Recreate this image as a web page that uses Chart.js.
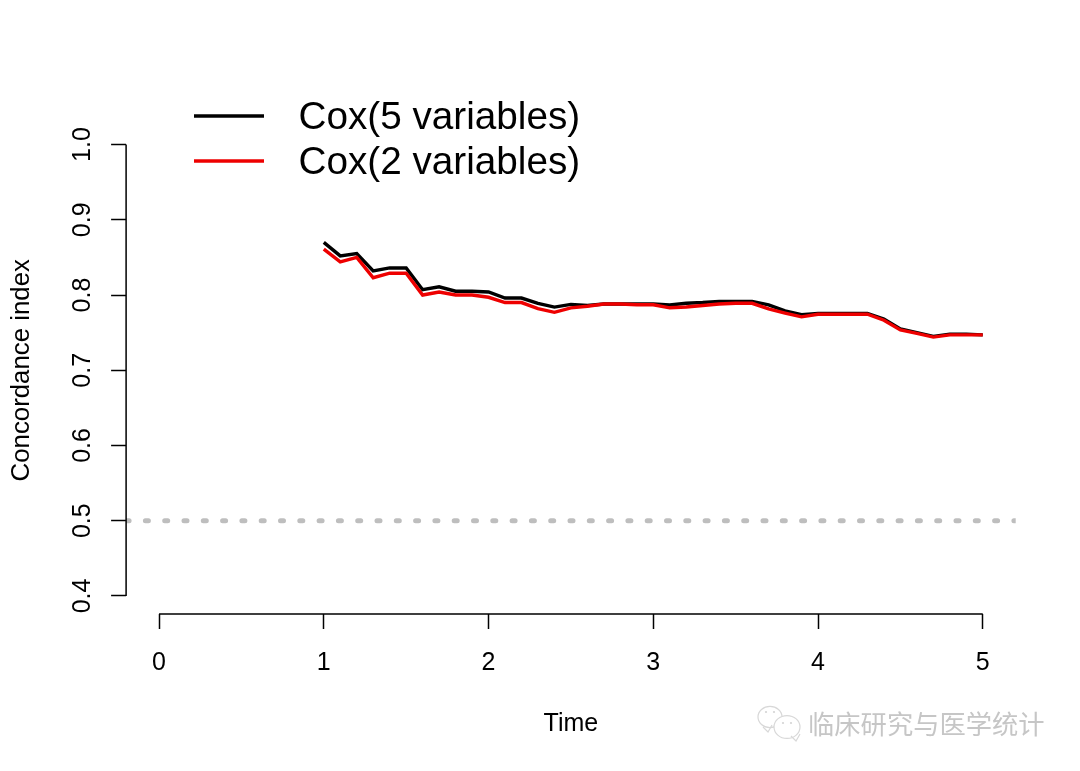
<!DOCTYPE html>
<html>
<head>
<meta charset="utf-8">
<title>Concordance index</title>
<script src="https://cdn.jsdelivr.net/npm/chart.js@4/dist/chart.umd.min.js"></script>
<style>
  html, body { margin: 0; background: #fff; }
  canvas { display: block; }
</style>
</head>
<body>
<canvas id="chart" width="1080" height="771"></canvas>
<script>
const times = [1, 1.1, 1.2, 1.3, 1.4, 1.5, 1.6, 1.7, 1.8, 1.9, 2, 2.1, 2.2, 2.3, 2.4, 2.5, 2.6, 2.7, 2.8, 2.9,
  3, 3.1, 3.2, 3.3, 3.4, 3.5, 3.6, 3.7, 3.8, 3.9, 4, 4.1, 4.2, 4.3, 4.4, 4.5, 4.6, 4.7, 4.8, 4.9, 5];
const cox5 = [0.870, 0.852, 0.855, 0.832, 0.836, 0.836, 0.807, 0.811, 0.805, 0.805, 0.804, 0.796, 0.796, 0.789, 0.784, 0.7875, 0.786, 0.788, 0.788, 0.788,
  0.788, 0.7867, 0.789, 0.790, 0.7915, 0.7915, 0.7915, 0.787, 0.779, 0.774, 0.7755, 0.7755, 0.7755, 0.7755, 0.768, 0.755, 0.750, 0.745, 0.748, 0.748, 0.747];
const cox2 = [0.861, 0.844, 0.850, 0.823, 0.829, 0.829, 0.800, 0.804, 0.800, 0.800, 0.797, 0.790, 0.790, 0.782, 0.777, 0.783, 0.785, 0.788, 0.788, 0.787,
  0.787, 0.783, 0.784, 0.786, 0.788, 0.789, 0.789, 0.7815, 0.776, 0.771, 0.7745, 0.7745, 0.7745, 0.7745, 0.7665, 0.7535, 0.749, 0.744, 0.747, 0.747, 0.747];
const xTicks = [0, 1, 2, 3, 4, 5];
const yTicks = [0.4, 0.5, 0.6, 0.7, 0.8, 0.9, 1.0];
const refLineX = [-0.2, 5.2];
const refLineY = [0.5, 0.5];
const legendLabels = ["Cox(5 variables)", "Cox(2 variables)"];
const watermark = "临床研究与医学统计";

const toPoints = (xs, ys) => xs.map((x, i) => ({ x, y: ys[i] }));
const FONT = "'Liberation Sans', Arial, sans-serif";

// R style axes: the line only runs between the first and last tick
const axisLines = {
  id: "axisLines",
  afterDraw(chart) {
    const { ctx, scales: { x, y }, chartArea } = chart;
    ctx.save();
    ctx.strokeStyle = "#000";
    ctx.lineWidth = 1.5;
    ctx.beginPath();
    ctx.moveTo(x.getPixelForValue(xTicks[0]), chartArea.bottom);
    ctx.lineTo(x.getPixelForValue(xTicks[xTicks.length - 1]), chartArea.bottom);
    ctx.moveTo(chartArea.left, y.getPixelForValue(yTicks[0]));
    ctx.lineTo(chartArea.left, y.getPixelForValue(yTicks[yTicks.length - 1]));
    ctx.stroke();
    ctx.restore();
  },
};

const lineLegend = {
  id: "lineLegend",
  afterDraw(chart) {
    const { ctx } = chart;
    ctx.save();
    ctx.font = `38.7px ${FONT}`;
    ctx.textBaseline = "middle";
    legendLabels.forEach((label, i) => {
      const yPos = 116 + i * 45;
      ctx.strokeStyle = chart.data.datasets[i].borderColor;
      ctx.lineWidth = 3.4;
      ctx.beginPath();
      ctx.moveTo(194, yPos);
      ctx.lineTo(264, yPos);
      ctx.stroke();
      ctx.fillStyle = "#000";
      ctx.fillText(label, 298.5, yPos + 2.5);
    });
    ctx.restore();
  },
};

const bubble = (ctx, cx, cy, r, tailX, tailY) => {
  ctx.beginPath();
  ctx.ellipse(cx, cy, r, r * 0.88, 0, 0, Math.PI * 2);
  ctx.fill();
  ctx.stroke();
  ctx.beginPath();
  ctx.moveTo(tailX - 5, tailY - 5);
  ctx.lineTo(tailX, tailY);
  ctx.lineTo(tailX + 4, tailY - 7);
  ctx.stroke();
};

const watermarkMark = {
  id: "watermarkMark",
  afterDraw(chart) {
    const { ctx } = chart;
    ctx.save();
    ctx.strokeStyle = "#d8d8d8";
    ctx.fillStyle = "#fff";
    ctx.lineWidth = 1.2;
    bubble(ctx, 770, 717, 12, 768, 732);
    bubble(ctx, 787, 727, 13, 796, 741);
    ctx.fillStyle = "#d4d4d4";
    [[766, 712], [774, 712], [783, 723], [791, 723]].forEach(([ex, ey]) => {
      ctx.beginPath();
      ctx.arc(ex, ey, 1.1, 0, Math.PI * 2);
      ctx.fill();
    });
    ctx.fillStyle = "#c6c6c6";
    ctx.font = "26.3px 'Noto Sans CJK SC', sans-serif";
    ctx.textBaseline = "middle";
    ctx.fillText(watermark, 808, 724);
    ctx.restore();
  },
};

new Chart(document.querySelector("#chart"), {
  type: "line",
  data: {
    datasets: [
      // lowest order is painted last, the red line sits on top of the black one
      { label: legendLabels[0], data: toPoints(times, cox5), borderColor: "#000000", borderWidth: 3.4, pointRadius: 0, tension: 0, order: 1 },
      { label: legendLabels[1], data: toPoints(times, cox2), borderColor: "#ee0000", borderWidth: 3.4, pointRadius: 0, tension: 0, order: 0 },
      { label: "reference", data: toPoints(refLineX, refLineY), borderColor: "#bebebe", borderWidth: 5, borderDash: [3, 16.3], borderCapStyle: "round", pointRadius: 0, order: 2 },
    ],
  },
  options: {
    responsive: false,
    animation: false,
    layout: { padding: { top: 126.5, right: 64.3, left: 0, bottom: 0 } },
    plugins: { legend: { display: false }, tooltip: { enabled: false } },
    scales: {
      x: {
        type: "linear",
        min: -0.2,
        max: 5.2,
        afterBuildTicks: (scale) => { scale.ticks = xTicks.map((value) => ({ value })); },
        afterFit: (scale) => { scale.height = 157; },
        border: { display: false },
        grid: { drawOnChartArea: false, tickLength: 15, tickColor: "#000", tickWidth: 1.5 },
        ticks: { color: "#000", font: { family: FONT, size: 25 }, padding: 19, maxRotation: 0, autoSkip: false },
        title: { display: true, text: "Time", color: "#000", font: { family: FONT, size: 25 }, padding: { top: 0, bottom: 32 } },
      },
      y: {
        min: 0.376,
        max: 1.024,
        afterBuildTicks: (scale) => { scale.ticks = yTicks.map((value) => ({ value })); },
        afterFit: (scale) => { scale.width = 126.1; },
        border: { display: false },
        grid: { drawOnChartArea: false, tickLength: 15, tickColor: "#000", tickWidth: 1.5 },
        ticks: {
          color: "#000",
          font: { family: FONT, size: 25 },
          padding: 11,
          minRotation: 90,
          maxRotation: 90,
          crossAlign: "center",
          autoSkip: false,
          callback: (value) => value.toFixed(1),
        },
        title: { display: true, text: "Concordance index", color: "#000", font: { family: FONT, size: 25.8 }, padding: { top: 6, bottom: 0 } },
      },
    },
  },
  plugins: [axisLines, lineLegend, watermarkMark],
});
</script>
</body>
</html>
